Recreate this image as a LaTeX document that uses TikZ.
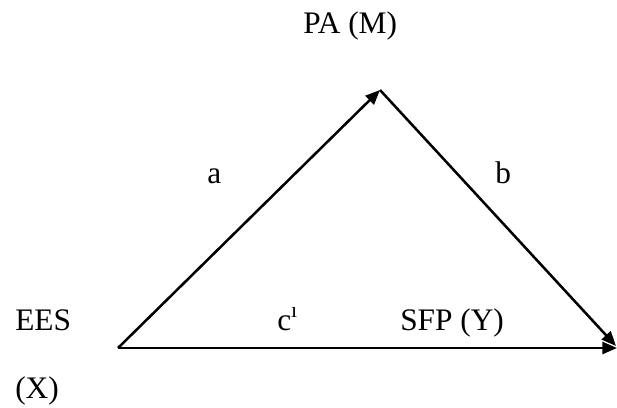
\documentclass[tikz,border=0pt]{standalone}
\usepackage{fontspec}
\setmainfont{Liberation Serif}
\usetikzlibrary{arrows.meta}
\begin{document}
\begin{tikzpicture}[x=0.75pt,y=-0.75pt,
  lbl/.style={font=\fontsize{23.5}{28}\selectfont, inner sep=0pt, anchor=base west},
  conn/.style={line width=1.9pt, -{Triangle[length=11pt,width=9pt]}}]
\useasboundingbox (0,0) rectangle (617,407);
\coordinate (X) at (118,348);
\coordinate (M) at (380,90);
\coordinate (Y) at (617,348);
\coordinate (Yd) at (616,346);
\node[lbl] (pa) at (303,33) {PA (M)};
\node[lbl] (a) at (207,183) {a};
\node[lbl] (b) at (495,183) {b};
\node[lbl] (ees) at (15,330) {EES};
\node[lbl] (xl) at (15,398) {(X)};
\node[lbl] (c) at (277,330) {c\textsuperscript{ı}};
\node[lbl] (sfp) at (400,330) {SFP (Y)};
\draw[conn] (X) -- (M);
\draw[conn] (M) -- (Yd);
\draw[conn] (X) -- (Y);
\end{tikzpicture}
\end{document}
